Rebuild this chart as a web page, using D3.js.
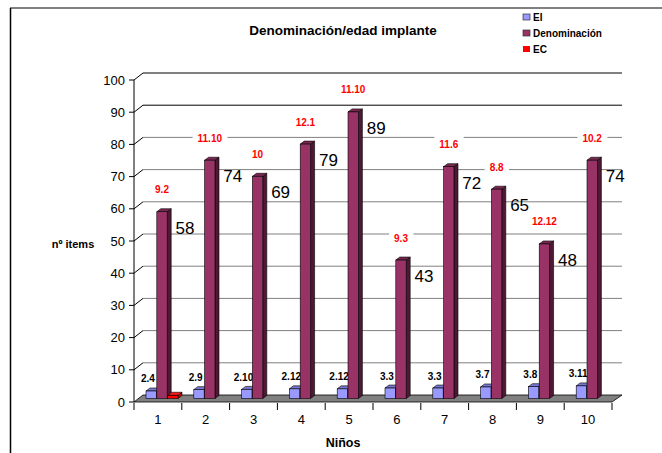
<!DOCTYPE html>
<html>
<head>
<meta charset="utf-8">
<script src="https://cdn.jsdelivr.net/npm/d3@7"></script>
<style>
  body { margin: 0; background: #fff; }
  svg { display: block; font-family: Arial, "Liberation Sans", sans-serif; }
</style>
</head>
<body>
<div id="chart"></div>
<script>
// Chart data
const categories = ["1", "2", "3", "4", "5", "6", "7", "8", "9", "10"];
const seriesNames = ["EI", "Denominación", "EC"];
const eiValues = [2.33, 2.75, 2.83, 3.0, 3.0, 3.25, 3.25, 3.58, 3.67, 3.92];
const eiLabels = ["2.4", "2.9", "2.10", "2.12", "2.12", "3.3", "3.3", "3.7", "3.8", "3.11"];
const denomValues = [58, 74, 69, 79, 89, 43, 72, 65, 48, 74];
const ecValues = [1, 0, 0, 0, 0, 0, 0, 0, 0, 0];
const ecLabels = ["9.2", "11.10", "10", "12.1", "11.10", "9.3", "11.6", "8.8", "12.12", "10.2"];
const yTicks = [0, 10, 20, 30, 40, 50, 60, 70, 80, 90, 100];

const width = 662, height = 453;
const svg = d3.select("#chart").append("svg")
    .attr("width", width)
    .attr("height", height);

// Scales (front plane of the 3D box)
const x = d3.scaleBand().domain(categories).range([134, 612]);
const y = d3.scaleLinear().domain([0, 100]).range([402, 80]);
const dx = 9, dy = 7;           // depth of the chart box
const bd = 4, bd2 = 3;          // depth of each bar

const colors = {
    "EI": { front: "#9999ff", top: "#7878d0", side: "#4a4a99" },
    "Denominación": { front: "#993366", top: "#7a2850", side: "#4d1933" },
    "EC": { front: "#ff0000", top: "#ff1a1a", side: "#cc0000" }
};

// Chart border (top and left)
svg.append("line").attr("x1", 10).attr("x2", width).attr("y1", 8).attr("y2", 8)
    .attr("stroke", "#808080").attr("stroke-width", 2);
svg.append("line").attr("x1", 10.5).attr("x2", 10.5).attr("y1", 8).attr("y2", height)
    .attr("stroke", "#000").attr("stroke-width", 1.5);

// Title
svg.append("text")
    .attr("x", 343).attr("y", 35)
    .attr("text-anchor", "middle")
    .style("font-size", "13.5px").style("font-weight", "bold")
    .text("Denominación/edad implante");

// Legend
const legend = svg.append("g").attr("transform", "translate(523,0)");
seriesNames.forEach((name, i) => {
    const ly = 17 + i * 16;
    legend.append("rect")
        .attr("x", 0).attr("y", ly - 3).attr("width", 7).attr("height", 6)
        .attr("fill", colors[name].front)
        .attr("stroke", name === "EC" ? "none" : "#333").attr("stroke-width", 0.7);
    legend.append("text")
        .attr("x", 10).attr("y", ly + 3.5)
        .style("font-size", "10px").style("font-weight", "bold")
        .text(name);
});

// Back wall gridlines and side-wall diagonals
const grid = svg.append("g");
yTicks.forEach(v => {
    const yy = y(v);
    if (v > 0) {
        grid.append("line")
            .attr("x1", 134 + dx).attr("x2", 612 + dx + 1)
            .attr("y1", yy - dy).attr("y2", yy - dy)
            .attr("stroke", v >= 90 ? "#000" : "#808080");
        grid.append("line")
            .attr("x1", 134).attr("x2", 134 + dx)
            .attr("y1", yy).attr("y2", yy - dy)
            .attr("stroke", "#000");
    }
});

// Floor
svg.append("path")
    .attr("d", `M134,${y(0)} L612,${y(0)} L${612 + dx + 1},${y(0) - dy} L${134 + dx},${y(0) - dy} Z`)
    .attr("fill", "#808080").attr("stroke", "#000").attr("stroke-width", 0.8);

// Y axis
const yAxis = svg.append("g");
yAxis.append("line").attr("x1", 134).attr("x2", 134).attr("y1", y(100)).attr("y2", y(0))
    .attr("stroke", "#000");
yTicks.forEach(v => {
    yAxis.append("line").attr("x1", 129).attr("x2", 134).attr("y1", y(v)).attr("y2", y(v))
        .attr("stroke", "#000");
    yAxis.append("text")
        .attr("x", 125).attr("y", y(v) + 4.5)
        .attr("text-anchor", "end")
        .style("font-size", "13px")
        .text(v);
});

// X axis ticks and labels
const xAxis = svg.append("g");
const tickXs = categories.map(c => x(c)).concat([x.range()[1]]);
tickXs.forEach(tx => {
    xAxis.append("line").attr("x1", tx).attr("x2", tx).attr("y1", y(0) + 1).attr("y2", y(0) + 8)
        .attr("stroke", "#000");
});
categories.forEach(c => {
    xAxis.append("text")
        .attr("x", x(c) + x.bandwidth() / 2).attr("y", y(0) + 22)
        .attr("text-anchor", "middle")
        .style("font-size", "13px")
        .text(c);
});

// Axis titles
svg.append("text").attr("x", 73).attr("y", 248)
    .attr("text-anchor", "middle")
    .style("font-size", "11px").style("font-weight", "bold")
    .text("nº items");
svg.append("text").attr("x", 343).attr("y", 447)
    .attr("text-anchor", "middle")
    .style("font-size", "12.5px").style("font-weight", "bold")
    .text("Niños");

// Series position inside each category
const xs = d3.scaleBand().domain(seriesNames).range([12, 44]).paddingInner(0.04);
const base = y(0) - dy / 2;
const barX = (c, s) => x(c) + xs(s) + dx / 2 - 4.5;
const barTop = v => base - (y(0) - y(v));

// EI label boxes (white background, under the bars)
const eiLab = svg.append("g");
categories.forEach((c, i) => {
    const cx = x(c) + x.bandwidth() / 2 - 10;
    const cy = barTop(eiValues[i]) - 12;
    const t = eiLab.append("text")
        .attr("x", cx).attr("y", cy + 3.5)
        .attr("text-anchor", "middle")
        .style("font-size", "10px").style("font-weight", "bold")
        .text(eiLabels[i]);
    const bb = t.node().getBBox();
    eiLab.insert("rect", "text")
        .attr("x", bb.x - 4).attr("y", cy - 9)
        .attr("width", bb.width + 8).attr("height", 18)
        .attr("fill", "#fff");
});

// 3D bars
function drawBar(g, x0, v, col) {
    const w = xs.bandwidth();
    const top = barTop(v);
    g.append("path")
        .attr("d", `M${x0 + w},${top} L${x0 + w + bd},${top - bd2} L${x0 + w + bd},${base - bd2} L${x0 + w},${base} Z`)
        .attr("fill", col.side).attr("stroke", "#000").attr("stroke-width", 0.6);
    g.append("path")
        .attr("d", `M${x0},${top} L${x0 + bd},${top - bd2} L${x0 + w + bd},${top - bd2} L${x0 + w},${top} Z`)
        .attr("fill", col.top).attr("stroke", "#000").attr("stroke-width", 0.6);
    g.append("rect")
        .attr("x", x0).attr("y", top).attr("width", w).attr("height", base - top)
        .attr("fill", col.front).attr("stroke", "#000").attr("stroke-width", 0.6);
}

const bars = svg.append("g");
categories.forEach((c, i) => {
    const vals = [eiValues[i], denomValues[i], ecValues[i]];
    seriesNames.forEach((s, j) => {
        if (vals[j] > 0) drawBar(bars, barX(c, s), vals[j], colors[s]);
    });
});

// Denominación value labels
categories.forEach((c, i) => {
    const cx = barX(c, "Denominación") + xs.bandwidth() / 2 + 23;
    svg.append("text")
        .attr("x", cx).attr("y", barTop(denomValues[i]) + 22)
        .attr("text-anchor", "middle")
        .style("font-size", "17px")
        .text(denomValues[i]);
});

// EC labels (red, white background)
const ecLab = svg.append("g");
categories.forEach((c, i) => {
    const cx = barX(c, "Denominación") + xs.bandwidth() / 2;
    const cy = barTop(denomValues[i]) - 22;
    const t = ecLab.append("text")
        .attr("x", cx).attr("y", cy + 3.5)
        .attr("text-anchor", "middle")
        .attr("fill", "#ff0000")
        .style("font-size", "10px").style("font-weight", "bold")
        .text(ecLabels[i]);
    const bb = t.node().getBBox();
    ecLab.insert("rect", "text")
        .attr("x", bb.x - 5).attr("y", cy - 9)
        .attr("width", bb.width + 10).attr("height", 18)
        .attr("fill", "#fff");
});
</script>
</body>
</html>
